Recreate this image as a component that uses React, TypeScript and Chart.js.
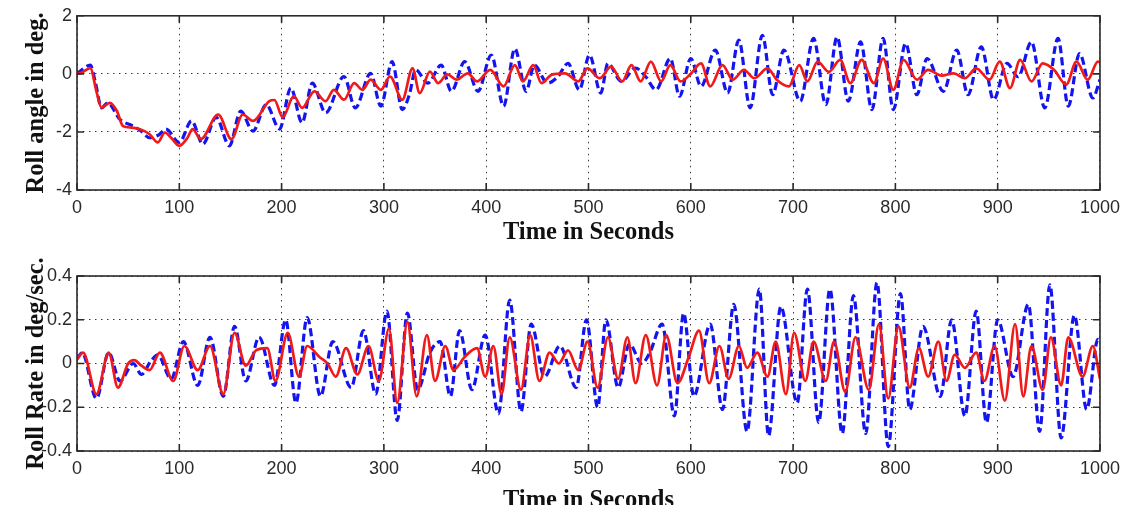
import React, { useEffect, useRef } from "react";
import { Chart, registerables } from "chart.js";

Chart.register(...registerables);

// ---------- axis ticks ----------
const timeTicks = [0, 100, 200, 300, 400, 500, 600, 700, 800, 900, 1000];
const angleTicks = [-4, -2, 0, 2];
const rateTicks = [-0.4, -0.2, 0, 0.2, 0.4];

// ---------- Roll angle (deg) : red solid ----------
const angleRedT = [0, 5, 13, 19, 24, 32, 39, 45, 53, 61, 71, 79, 86, 92, 100, 108, 113, 121, 138, 151, 162, 172, 188, 193, 201, 212, 220, 232, 243, 251, 261, 271, 279, 287, 297, 306, 318, 328, 335, 345, 353, 362, 371, 382, 391, 404, 417, 428, 436, 446, 454, 464, 477, 490, 499, 511, 522, 533, 542, 551, 561, 571, 580, 590, 600, 610, 619, 631, 641, 652, 662, 675, 684, 696, 706, 714, 724, 735, 746, 756, 767, 779, 788, 798, 808, 821, 832, 845, 857, 868, 879, 892, 902, 912, 922, 933, 944, 955, 967, 977, 988, 998, 1000];
const angleRedV = [0, 0.05, 0.2, -0.6, -1.17, -1.0, -1.28, -1.8, -1.85, -1.9, -2.08, -2.36, -2.02, -2.2, -2.48, -2.2, -1.9, -2.25, -1.4, -2.25, -1.4, -1.62, -0.94, -0.9, -1.5, -0.77, -1.17, -0.6, -0.94, -0.55, -0.89, -0.32, -0.55, -0.2, -0.55, -0.09, -0.89, 0.19, -0.66, 0.08, -0.32, -0.02, -0.2, 0.02, -0.26, 0.14, -0.43, 0.3, -0.26, 0.3, -0.32, -0.03, 0.02, -0.26, 0.19, -0.15, 0.25, -0.26, 0.3, -0.26, 0.42, -0.26, 0.3, -0.26, 0.0, 0.36, -0.43, 0.3, -0.2, 0.14, -0.15, 0.19, -0.2, -0.43, 0.3, -0.26, 0.42, 0.07, 0.48, -0.32, 0.48, -0.32, 0.53, -0.55, 0.48, -0.2, 0.14, -0.06, 0.02, -0.15, 0.19, -0.2, 0.42, -0.49, 0.48, -0.26, 0.36, 0.14, -0.37, 0.42, -0.2, 0.42, 0.4];

// ---------- Roll angle (deg) : blue dashed ----------
const angleBlueT = [0, 5, 13, 18, 24, 30, 42, 55, 62, 71, 80, 87, 100, 112, 123, 136, 149, 160, 172, 185, 198, 209, 220, 230, 243, 261, 272, 287, 297, 308, 318, 325, 331, 343, 356, 366, 379, 392, 405, 417, 428, 439, 447, 460, 470, 480, 491, 501, 512, 519, 532, 546, 556, 566, 580, 589, 600, 610, 624, 636, 647, 658, 670, 680, 691, 707, 720, 732, 743, 754, 766, 777, 788, 798, 810, 821, 831, 847, 860, 871, 884, 896, 909, 920, 933, 946, 959, 969, 980, 993, 1000];
const angleBlueV = [0, 0.15, 0.3, -0.3, -1.17, -1.0, -1.57, -1.8, -1.95, -2.2, -2.1, -1.9, -2.36, -1.62, -2.42, -1.5, -2.48, -1.28, -1.97, -1.06, -1.9, -0.49, -1.68, -0.32, -1.34, -0.09, -1.17, 0.02, -1.11, 0.42, -1.23, -0.7, 0.14, -0.32, 0.3, -0.6, 0.42, -0.6, 0.65, -1.11, 0.87, -0.6, 0.3, -0.32, -0.1, 0.36, -0.55, 0.65, -0.66, 0.36, -0.26, 0.2, -0.1, -0.55, 0.53, -0.77, 0.53, -0.43, 0.82, -0.66, 1.16, -1.17, 1.33, -0.72, 0.82, -0.94, 1.22, -1.06, 1.27, -0.94, 1.1, -1.23, 1.22, -1.23, 1.05, -0.72, 0.53, -0.6, 0.82, -0.72, 0.93, -0.89, 0.36, -0.1, 1.1, -1.17, 1.22, -1.11, 0.7, -0.83, -0.2];

// ---------- Roll rate (deg/sec) : red solid ----------
const rateRedT = [0, 6, 19, 31, 40, 50, 56, 63, 71, 81, 94, 105, 118, 130, 143, 154, 165, 175, 186, 194, 206, 217, 225, 237, 245, 253, 263, 274, 285, 295, 305, 313, 323, 332, 342, 350, 360, 368, 379, 391, 399, 407, 415, 423, 434, 443, 452, 462, 471, 480, 490, 499, 509, 519, 529, 538, 546, 556, 567, 576, 587, 598, 608, 618, 628, 637, 647, 655, 665, 675, 683, 693, 701, 712, 720, 732, 740, 751, 761, 774, 784, 793, 803, 814, 823, 832, 842, 850, 858, 868, 879, 887, 897, 907, 917, 925, 933, 944, 952, 962, 969, 983, 993, 1000];
const rateRedV = [0.02, 0.05, -0.14, 0.05, -0.11, 0.0, 0.015, -0.01, -0.03, 0.05, -0.08, 0.08, -0.03, 0.08, -0.14, 0.14, -0.01, 0.06, 0.07, -0.08, 0.14, -0.06, 0.08, 0.03, 0.0, -0.06, 0.07, -0.05, 0.08, -0.08, 0.16, -0.18, 0.19, -0.15, 0.13, -0.08, 0.08, -0.03, 0.03, 0.07, -0.06, 0.08, -0.14, 0.12, -0.12, 0.13, -0.08, 0.05, 0.0, 0.06, -0.03, 0.1, -0.11, 0.12, -0.07, 0.12, -0.09, 0.13, -0.1, 0.13, -0.09, 0.03, 0.15, -0.09, 0.08, -0.07, 0.08, -0.02, 0.05, -0.06, 0.1, -0.14, 0.14, -0.08, 0.1, -0.08, 0.1, -0.13, 0.12, -0.12, 0.18, -0.16, 0.17, -0.11, 0.07, -0.06, 0.1, -0.08, 0.04, -0.02, 0.05, -0.08, 0.08, -0.17, 0.18, -0.15, 0.08, -0.12, 0.12, -0.1, 0.12, -0.06, 0.08, -0.07];

// ---------- Roll rate (deg/sec) : blue dashed ----------
const rateBlueT = [0, 5, 19, 31, 42, 55, 63, 72, 79, 92, 104, 118, 130, 143, 154, 165, 178, 193, 204, 214, 225, 238, 250, 268, 280, 292, 303, 313, 323, 333, 345, 355, 365, 374, 386, 399, 412, 423, 434, 444, 457, 472, 488, 498, 509, 517, 529, 540, 552, 560, 572, 584, 593, 603, 619, 631, 642, 655, 667, 676, 688, 704, 714, 725, 736, 748, 759, 771, 782, 793, 805, 814, 827, 844, 855, 868, 879, 889, 900, 915, 930, 941, 951, 962, 975, 987, 998, 1000];
const rateBlueV = [0.02, 0.05, -0.16, 0.05, -0.08, 0.0, -0.05, 0.01, 0.04, -0.07, 0.1, -0.1, 0.12, -0.15, 0.17, -0.08, 0.12, -0.1, 0.2, -0.18, 0.21, -0.15, 0.1, -0.11, 0.15, -0.14, 0.24, -0.26, 0.23, -0.12, 0.05, 0.1, -0.15, 0.15, -0.12, 0.13, -0.23, 0.29, -0.22, 0.18, -0.06, 0.08, -0.11, 0.2, -0.2, 0.2, -0.11, 0.09, 0.0, 0.05, 0.18, -0.24, 0.23, -0.15, 0.18, -0.21, 0.27, -0.31, 0.34, -0.33, 0.26, -0.18, 0.34, -0.27, 0.34, -0.32, 0.31, -0.32, 0.37, -0.38, 0.32, -0.21, 0.17, -0.15, 0.2, -0.24, 0.24, -0.27, 0.2, -0.06, 0.27, -0.31, 0.36, -0.34, 0.22, -0.21, 0.11, 0.1];

const RED = "#f01a1a";
const BLUE = "#1414ee";
const SANS = "'Liberation Sans', Arial, sans-serif";
const SERIF = "'Liberation Serif', 'Times New Roman', serif";

const zip = (t: number[], v: number[]) => t.map((x, i) => ({ x, y: v[i] }));

const framePlugin = {
  id: "matlabFrame",
  afterDatasetsDraw(chart: any) {
    const { ctx, chartArea, scales } = chart;
    const { left, right, top, bottom } = chartArea;
    ctx.save();
    ctx.strokeStyle = "#2a2a2a";
    ctx.lineWidth = 1.6;
    ctx.setLineDash([]);
    ctx.strokeRect(left, top, right - left, bottom - top);
    const len = 7;
    ctx.beginPath();
    scales.x.ticks.forEach((t: any) => {
      const px = scales.x.getPixelForValue(t.value);
      ctx.moveTo(px, bottom);
      ctx.lineTo(px, bottom - len);
      ctx.moveTo(px, top);
      ctx.lineTo(px, top + len);
    });
    scales.y.ticks.forEach((t: any) => {
      const py = scales.y.getPixelForValue(t.value);
      ctx.moveTo(left, py);
      ctx.lineTo(left + len, py);
      ctx.moveTo(right, py);
      ctx.lineTo(right - len, py);
    });
    ctx.stroke();
    ctx.restore();
  },
};

type PanelProps = {
  height: number;
  padTop: number;
  xAxisHeight: number;
  xTitlePadBottom: number;
  yMin: number;
  yMax: number;
  yTicks: number[];
  yTitle: string;
  redT: number[];
  redV: number[];
  blueT: number[];
  blueV: number[];
  top: number;
};

function Panel(p: PanelProps) {
  const ref = useRef<HTMLCanvasElement | null>(null);
  useEffect(() => {
    if (!ref.current) return;
    const chart = new Chart(ref.current, {
      type: "line",
      data: {
        datasets: [
          {
            label: "red",
            data: zip(p.redT, p.redV),
            borderColor: RED,
            borderWidth: 2.7,
            pointRadius: 0,
            cubicInterpolationMode: "monotone",
            fill: false,
          },
          {
            label: "blue",
            data: zip(p.blueT, p.blueV),
            borderColor: BLUE,
            borderWidth: 3.2,
            borderDash: [8, 4],
            pointRadius: 0,
            cubicInterpolationMode: "monotone",
            fill: false,
          },
        ],
      },
      options: {
        responsive: false,
        animation: false,
        devicePixelRatio: 1,
        events: [],
        layout: { padding: { left: 0, right: 23, top: p.padTop, bottom: 0 } },
        plugins: { legend: { display: false }, tooltip: { enabled: false } },
        scales: {
          x: {
            type: "linear",
            min: 0,
            max: 1000,
            afterBuildTicks: (s: any) => {
              s.ticks = timeTicks.map((v) => ({ value: v }));
            },
            afterFit: (s: any) => {
              s.height = p.xAxisHeight;
            },
            ticks: {
              font: { family: SANS, size: 18 },
              color: "#2a2a2a",
              padding: 7,
              maxRotation: 0,
              autoSkip: false,
              callback: (v: any) => String(v),
            },
            grid: { drawTicks: false, color: "#3a3a3a", lineWidth: 1 },
            border: { display: false, dash: [1.5, 4.5] },
            title: {
              display: true,
              text: "Time in Seconds",
              font: { family: SERIF, size: 24.5, weight: "bold" },
              color: "#111",
              padding: { top: 0, bottom: p.xTitlePadBottom },
            },
          },
          y: {
            type: "linear",
            min: p.yMin,
            max: p.yMax,
            afterBuildTicks: (s: any) => {
              s.ticks = p.yTicks.map((v) => ({ value: v }));
            },
            afterFit: (s: any) => {
              s.width = 77;
            },
            ticks: {
              font: { family: SANS, size: 18 },
              color: "#2a2a2a",
              padding: 5,
              autoSkip: false,
              callback: (v: any) => String(Math.round(Number(v) * 10) / 10),
            },
            grid: { drawTicks: false, color: "#3a3a3a", lineWidth: 1 },
            border: { display: false, dash: [1.5, 4.5] },
            title: {
              display: true,
              text: p.yTitle,
              font: { family: SERIF, size: 24.5, weight: "bold" },
              color: "#111",
              padding: { top: 22, bottom: 0 },
            },
          },
        },
      },
      plugins: [framePlugin],
    } as any);
    return () => chart.destroy();
  }, []);
  return (
    <canvas
      ref={ref}
      width={1127}
      height={p.height}
      style={{ position: "absolute", left: 0, top: p.top, width: 1127, height: p.height }}
    />
  );
}

export default function App() {
  return (
    <div
      style={{
        position: "absolute",
        left: 0,
        top: 0,
        width: 1127,
        height: 505,
        overflow: "hidden",
        background: "#fff",
      }}
    >
      <Panel
        top={0}
        height={250}
        padTop={14}
        xAxisHeight={60}
        xTitlePadBottom={3}
        yMin={-4}
        yMax={2}
        yTicks={angleTicks}
        yTitle="Roll angle in deg."
        redT={angleRedT}
        redV={angleRedV}
        blueT={angleBlueT}
        blueV={angleBlueV}
      />
      <Panel
        top={250}
        height={270}
        padTop={26}
        xAxisHeight={69}
        xTitlePadBottom={5}
        yMin={-0.4}
        yMax={0.4}
        yTicks={rateTicks}
        yTitle="Roll Rate in deg/sec."
        redT={rateRedT}
        redV={rateRedV}
        blueT={rateBlueT}
        blueV={rateBlueV}
      />
    </div>
  );
}
